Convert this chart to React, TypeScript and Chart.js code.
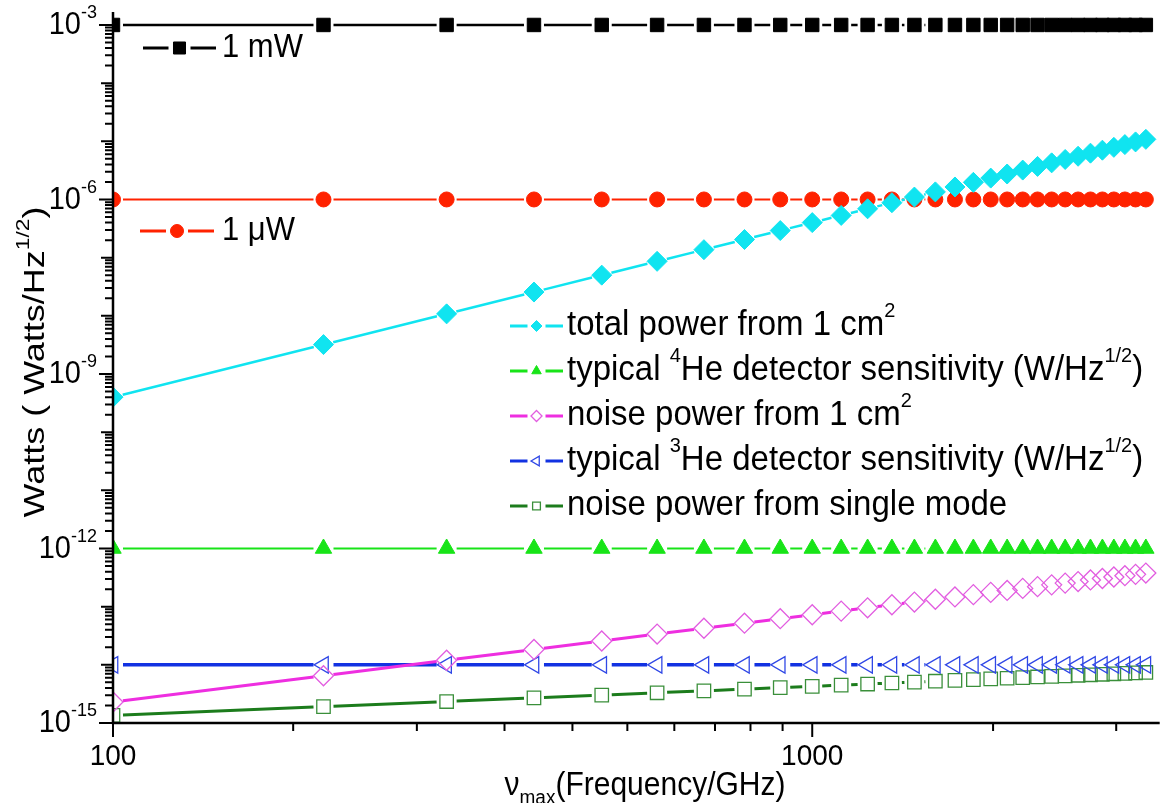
import React, { useEffect, useRef } from "react";
import { Chart, registerables } from "chart.js";

Chart.register(...registerables);

// ---------- data ----------
const frequencyGHz = [
  100, 200, 300, 400, 500, 600, 700, 800, 900, 1000,
  1100, 1200, 1300, 1400, 1500, 1600, 1700, 1800, 1900, 2000,
  2100, 2200, 2300, 2400, 2500, 2600, 2700, 2800, 2900, 3000,
];

const oneMilliwatt = [
  1e-3, 1e-3, 1e-3, 1e-3, 1e-3, 1e-3, 1e-3, 1e-3, 1e-3, 1e-3,
  1e-3, 1e-3, 1e-3, 1e-3, 1e-3, 1e-3, 1e-3, 1e-3, 1e-3, 1e-3,
  1e-3, 1e-3, 1e-3, 1e-3, 1e-3, 1e-3, 1e-3, 1e-3, 1e-3, 1e-3,
];

const oneMicrowatt = [
  1e-6, 1e-6, 1e-6, 1e-6, 1e-6, 1e-6, 1e-6, 1e-6, 1e-6, 1e-6,
  1e-6, 1e-6, 1e-6, 1e-6, 1e-6, 1e-6, 1e-6, 1e-6, 1e-6, 1e-6,
  1e-6, 1e-6, 1e-6, 1e-6, 1e-6, 1e-6, 1e-6, 1e-6, 1e-6, 1e-6,
];

const totalPower1cm2 = [
  4.0e-10, 3.2e-9, 1.08e-8, 2.56e-8, 5.0e-8, 8.64e-8, 1.37e-7, 2.05e-7, 2.92e-7, 4.0e-7,
  5.32e-7, 6.91e-7, 8.79e-7, 1.1e-6, 1.35e-6, 1.64e-6, 1.97e-6, 2.33e-6, 2.74e-6, 3.2e-6,
  3.7e-6, 4.26e-6, 4.87e-6, 5.53e-6, 6.25e-6, 7.03e-6, 7.87e-6, 8.78e-6, 9.76e-6, 1.08e-5,
];

const he4Sensitivity = [
  1e-12, 1e-12, 1e-12, 1e-12, 1e-12, 1e-12, 1e-12, 1e-12, 1e-12, 1e-12,
  1e-12, 1e-12, 1e-12, 1e-12, 1e-12, 1e-12, 1e-12, 1e-12, 1e-12, 1e-12,
  1e-12, 1e-12, 1e-12, 1e-12, 1e-12, 1e-12, 1e-12, 1e-12, 1e-12, 1e-12,
];

const noisePower1cm2 = [
  2.3e-15, 6.5e-15, 1.2e-14, 1.84e-14, 2.57e-14, 3.38e-14, 4.26e-14, 5.2e-14, 6.21e-14, 7.27e-14,
  8.39e-14, 9.56e-14, 1.08e-13, 1.2e-13, 1.34e-13, 1.47e-13, 1.61e-13, 1.76e-13, 1.9e-13, 2.06e-13,
  2.21e-13, 2.37e-13, 2.54e-13, 2.7e-13, 2.88e-13, 3.05e-13, 3.23e-13, 3.41e-13, 3.59e-13, 3.78e-13,
];

const he3Sensitivity = [
  1e-14, 1e-14, 1e-14, 1e-14, 1e-14, 1e-14, 1e-14, 1e-14, 1e-14, 1e-14,
  1e-14, 1e-14, 1e-14, 1e-14, 1e-14, 1e-14, 1e-14, 1e-14, 1e-14, 1e-14,
  1e-14, 1e-14, 1e-14, 1e-14, 1e-14, 1e-14, 1e-14, 1e-14, 1e-14, 1e-14,
];

const noisePowerSingleMode = [
  1.35e-15, 1.91e-15, 2.34e-15, 2.7e-15, 3.02e-15, 3.31e-15, 3.57e-15, 3.82e-15, 4.05e-15, 4.27e-15,
  4.48e-15, 4.68e-15, 4.87e-15, 5.05e-15, 5.23e-15, 5.4e-15, 5.57e-15, 5.73e-15, 5.88e-15, 6.04e-15,
  6.19e-15, 6.33e-15, 6.47e-15, 6.61e-15, 6.75e-15, 6.88e-15, 7.01e-15, 7.14e-15, 7.27e-15, 7.39e-15,
];

// axis ticks
const yLabelExponents = [-15, -12, -9, -6, -3];
const xMajorTicks = [100, 1000];
const xMajorLabels = ["100", "1000"];
const xMinorTicks = [181, 272, 363, 454, 544, 635, 726, 816, 907, 1814, 2721];

// legend texts
type Run = { t: string; s?: "sup" | "sub" };
const labelMilliwatt: Run[] = [{ t: "1 mW" }];
const labelMicrowatt: Run[] = [{ t: "1 \u03BCW" }];
const labelTotal: Run[] = [{ t: "total power from 1 cm" }, { t: "2", s: "sup" }];
const labelHe4: Run[] = [
  { t: "typical " }, { t: "4", s: "sup" }, { t: "He detector sensitivity (W/Hz" }, { t: "1/2", s: "sup" }, { t: ")" },
];
const labelNoise1cm2: Run[] = [{ t: "noise power from 1 cm" }, { t: "2", s: "sup" }];
const labelHe3: Run[] = [
  { t: "typical " }, { t: "3", s: "sup" }, { t: "He detector sensitivity (W/Hz" }, { t: "1/2", s: "sup" }, { t: ")" },
];
const labelSingleMode: Run[] = [{ t: "noise power from single mode" }];
const xTitle: Run[] = [{ t: "\u03BD" }, { t: "max", s: "sub" }, { t: "(Frequency/GHz)" }];
const yTitle: Run[] = [{ t: "Watts ( Watts/Hz" }, { t: "1/2", s: "sup" }, { t: ")" }];

// ---------- styles ----------
const FONT = '"Liberation Sans", Arial, Helvetica, sans-serif';

type SeriesStyle = {
  key: string;
  values: number[];
  line: string;
  lineWidth: number;
  marker: string;
  fill: string | null;
  shape: "rect" | "rectRot" | "circle" | "triangle";
  rotation: number;
  radius: number;
  markerBorder: number;
  gap: number;
};

const series: SeriesStyle[] = [
  { key: "total", values: totalPower1cm2, line: "#10e4f0", lineWidth: 2.5, marker: "#10e4f0", fill: "#10e4f0", shape: "rectRot", rotation: 0, radius: 10, markerBorder: 1, gap: 10 },
  { key: "mW", values: oneMilliwatt, line: "#000000", lineWidth: 2.5, marker: "#000000", fill: "#000000", shape: "rect", rotation: 0, radius: 9.5, markerBorder: 1, gap: 10 },
  { key: "uW", values: oneMicrowatt, line: "#ff2200", lineWidth: 2, marker: "#ff2200", fill: "#ff2200", shape: "circle", rotation: 0, radius: 7.5, markerBorder: 1, gap: 10 },
  { key: "he4", values: he4Sensitivity, line: "#18e418", lineWidth: 2, marker: "#18e418", fill: "#18e418", shape: "triangle", rotation: 0, radius: 9.5, markerBorder: 1, gap: 10 },
  { key: "noise1", values: noisePower1cm2, line: "#ee2ee0", lineWidth: 3, marker: "#e25ee0", fill: null, shape: "rectRot", rotation: 0, radius: 10, markerBorder: 1.3, gap: 10 },
  { key: "he3", values: he3Sensitivity, line: "#1232e2", lineWidth: 3.5, marker: "#3048e6", fill: null, shape: "triangle", rotation: -90, radius: 9.5, markerBorder: 1.3, gap: 10 },
  { key: "single", values: noisePowerSingleMode, line: "#1c7c1c", lineWidth: 3, marker: "#3a8f3a", fill: null, shape: "rect", rotation: 0, radius: 9.5, markerBorder: 1.3, gap: 10 },
];

function styleOf(key: string): SeriesStyle {
  return series.find((s) => s.key === key) as SeriesStyle;
}

// ---------- drawing helpers ----------
function drawRich(
  ctx: CanvasRenderingContext2D,
  runs: Run[],
  x: number,
  y: number,
  size: number,
  align: "left" | "center" | "right",
  sx = 1,
  sy = 1
) {
  const fontFor = (r: Run) => `${r.s ? Math.round(size * 0.62) : size}px ${FONT}`;
  let total = 0;
  const widths = runs.map((r) => {
    ctx.font = fontFor(r);
    const w = ctx.measureText(r.t).width;
    total += w;
    return w;
  });
  ctx.save();
  ctx.translate(x, y);
  ctx.scale(sx, sy);
  let cx = align === "left" ? 0 : align === "center" ? -total / 2 : -total;
  ctx.textAlign = "left";
  ctx.textBaseline = "middle";
  runs.forEach((r, i) => {
    ctx.font = fontFor(r);
    const dy = r.s === "sup" ? -size * 0.42 : r.s === "sub" ? size * 0.38 : 0;
    ctx.fillText(r.t, cx, dy);
    cx += widths[i];
  });
  ctx.restore();
}

function drawMarker(
  ctx: CanvasRenderingContext2D,
  shape: string,
  x: number,
  y: number,
  r: number,
  rotation: number,
  fill: string | null,
  stroke: string,
  lw: number
) {
  ctx.save();
  ctx.beginPath();
  if (shape === "rect") {
    const s = r * Math.SQRT1_2;
    ctx.rect(x - s, y - s, 2 * s, 2 * s);
  } else if (shape === "rectRot") {
    ctx.moveTo(x, y - r);
    ctx.lineTo(x + r, y);
    ctx.lineTo(x, y + r);
    ctx.lineTo(x - r, y);
    ctx.closePath();
  } else if (shape === "circle") {
    ctx.arc(x, y, r, 0, Math.PI * 2);
  } else {
    let a = (rotation * Math.PI) / 180;
    ctx.moveTo(x + Math.sin(a) * r, y - Math.cos(a) * r);
    for (let k = 0; k < 2; k++) {
      a += (2 * Math.PI) / 3;
      ctx.lineTo(x + Math.sin(a) * r, y - Math.cos(a) * r);
    }
    ctx.closePath();
  }
  if (fill) {
    ctx.fillStyle = fill;
    ctx.fill();
  }
  ctx.lineWidth = lw;
  ctx.strokeStyle = stroke;
  ctx.stroke();
  ctx.restore();
}

function legendSample(
  ctx: CanvasRenderingContext2D,
  s: SeriesStyle,
  x0: number,
  x1: number,
  y: number,
  r: number,
  gap: number
) {
  const mx = (x0 + x1) / 2;
  ctx.save();
  ctx.strokeStyle = s.line;
  ctx.lineWidth = 3;
  ctx.beginPath();
  ctx.moveTo(x0, y);
  ctx.lineTo(mx - gap, y);
  ctx.moveTo(mx + gap, y);
  ctx.lineTo(x1, y);
  ctx.stroke();
  ctx.restore();
  drawMarker(ctx, s.shape, mx, y, r, s.rotation, s.fill, s.marker, s.markerBorder);
}

// ---------- plugins ----------
const axesPlugin = {
  id: "customAxes",
  afterDatasetsDraw(chart: any) {
    const { ctx, chartArea: a, scales } = chart;
    const xs = scales.x;
    const ys = scales.y;
    ctx.save();
    ctx.strokeStyle = "#000";
    ctx.fillStyle = "#000";
    ctx.lineCap = "butt";

    // y ticks
    ctx.lineWidth = 2;
    ctx.beginPath();
    for (let e = -15; e <= -3; e++) {
      for (let m = 1; m <= 9; m++) {
        const v = m * Math.pow(10, e);
        if (v > ys.max * 1.0001) break;
        const py = ys.getPixelForValue(v);
        const len = m === 1 ? (yLabelExponents.includes(e) ? 14 : 12) : 8;
        ctx.moveTo(a.left - len, py);
        ctx.lineTo(a.left, py);
      }
    }
    ctx.stroke();

    // x ticks
    ctx.beginPath();
    xMajorTicks.forEach((v) => {
      const px = xs.getPixelForValue(v);
      ctx.moveTo(px, a.bottom);
      ctx.lineTo(px, a.bottom + 14);
    });
    xMinorTicks.forEach((v) => {
      const px = xs.getPixelForValue(v);
      ctx.moveTo(px, a.bottom);
      ctx.lineTo(px, a.bottom + 8);
    });
    ctx.stroke();

    // axis lines
    ctx.lineWidth = 2.5;
    ctx.beginPath();
    ctx.moveTo(a.left, a.top);
    ctx.lineTo(a.left, a.bottom + 1.25);
    ctx.moveTo(a.left - 1.25, a.bottom);
    ctx.lineTo(a.right, a.bottom);
    ctx.stroke();

    // tick labels
    yLabelExponents.forEach((e) => {
      const py = ys.getPixelForValue(Math.pow(10, e));
      drawRich(ctx, [{ t: "10" }, { t: String(e), s: "sup" }], a.left - 16, py + 1, 29, "right", 1, 1.05);
    });
    xMajorTicks.forEach((v, i) => {
      const px = xs.getPixelForValue(v);
      drawRich(ctx, [{ t: xMajorLabels[i] }], px, a.bottom + 34, 28, "center", 1, 1.05);
    });

    // axis titles
    drawRich(ctx, xTitle, 645, 786, 30, "center", 1, 1.08);
    ctx.save();
    ctx.translate(36, 362);
    ctx.rotate(-Math.PI / 2);
    drawRich(ctx, yTitle, 0, 0, 30, "center", 1.2, 1);
    ctx.restore();

    // legends
    ctx.fillStyle = "#000";
    legendSample(ctx, styleOf("mW"), 143, 216, 48, 8.5, 11);
    drawRich(ctx, labelMilliwatt, 222, 48, 31, "left", 1, 1.05);
    legendSample(ctx, styleOf("uW"), 140, 214, 231, 6.5, 11);
    drawRich(ctx, labelMicrowatt, 222, 231, 31, "left", 1, 1.05);

    const rows: [string, Run[]][] = [
      ["total", labelTotal],
      ["he4", labelHe4],
      ["noise1", labelNoise1cm2],
      ["he3", labelHe3],
      ["single", labelSingleMode],
    ];
    rows.forEach(([key, runs], i) => {
      const y = 326 + i * 45;
      legendSample(ctx, styleOf(key), 510, 563, y, 5.5, 9);
      drawRich(ctx, runs, 567, y, 33, "left", 1, 1.04);
    });

    ctx.restore();
  },
};

function gapSegment(gap: number) {
  const len = (c: any) => Math.hypot(c.p1.x - c.p0.x, c.p1.y - c.p0.y);
  return {
    borderDash: (c: any) => {
      const L = len(c);
      const d = L - 2 * gap;
      return d > 0.5 ? [d, 2 * gap] : [0, L + 20];
    },
    borderDashOffset: (c: any) => {
      const L = len(c);
      const d = L - 2 * gap;
      return d > 0.5 ? L - gap : 0;
    },
  };
}

export default function App() {
  const canvasRef = useRef<HTMLCanvasElement | null>(null);

  useEffect(() => {
    const canvas = canvasRef.current;
    if (!canvas) return;
    const datasets = series.map((s) => ({
      label: s.key,
      data: frequencyGHz.map((f, i) => ({ x: f, y: s.values[i] })),
      borderColor: s.line,
      borderWidth: s.lineWidth,
      backgroundColor: s.fill ?? "rgba(0,0,0,0)",
      pointBackgroundColor: s.fill ?? "rgba(0,0,0,0)",
      pointBorderColor: s.marker,
      pointBorderWidth: s.markerBorder,
      pointStyle: s.shape,
      pointRotation: s.rotation,
      pointRadius: s.radius,
      pointHoverRadius: s.radius,
      tension: 0,
      fill: false,
      segment: gapSegment(s.gap),
    }));

    const chart = new Chart(canvas, {
      type: "line",
      data: { datasets },
      options: {
        responsive: false,
        animation: false,
        devicePixelRatio: 1,
        events: [],
        layout: { padding: { left: 113, top: 12, right: 0, bottom: 80 } },
        scales: {
          x: { type: "logarithmic", min: 100, max: 3140, display: false },
          y: { type: "logarithmic", min: 1e-15, max: 1.67e-3, display: false },
        },
        plugins: {
          legend: { display: false },
          tooltip: { enabled: false },
        },
      },
      plugins: [axesPlugin],
    } as any);

    return () => chart.destroy();
  }, []);

  return (
    <div style={{ position: "absolute", left: 0, top: 0, width: 1171, height: 803, background: "#fff" }}>
      <canvas ref={canvasRef} width={1171} height={803} style={{ display: "block" }} />
    </div>
  );
}
